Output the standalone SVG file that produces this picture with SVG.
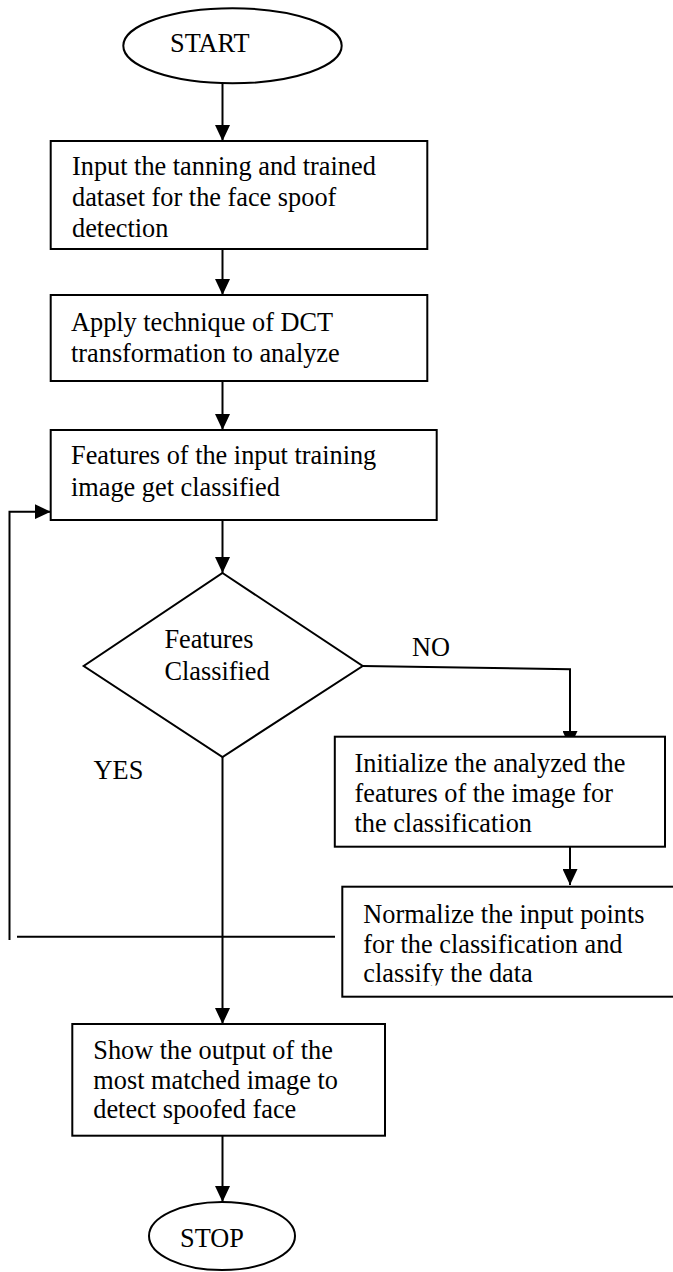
<svg xmlns="http://www.w3.org/2000/svg" width="673" height="1272" viewBox="0 0 673 1272">
<style>
.shape{fill:#fff;stroke:#000;stroke-width:2}
.t{font-family:"Liberation Serif","Times New Roman",serif;font-size:26.3px;fill:#000}
.c{fill:none;stroke:#000;stroke-width:2}
</style>
<defs>
<marker id="ah" markerUnits="userSpaceOnUse" markerWidth="16" markerHeight="15" refX="16" refY="7.5" orient="auto">
<path d="M0,0 L16,7.5 L0,15 z" fill="#000"/>
</marker>
<clipPath id="clipN"><rect x="340" y="885" width="340" height="100.5"/></clipPath>
</defs>
<rect width="673" height="1272" fill="#fff"/>
<g id="connectors">
<line class="c" x1="222.5" y1="83" x2="222.5" y2="141" marker-end="url(#ah)"/>
<line class="c" x1="222.5" y1="249" x2="222.5" y2="295" marker-end="url(#ah)"/>
<line class="c" x1="222.5" y1="381" x2="222.5" y2="430" marker-end="url(#ah)"/>
<line class="c" x1="222.5" y1="520" x2="222.5" y2="573" marker-end="url(#ah)"/>
<polyline class="c" points="362.7,666 570,669.3 570,747" marker-end="url(#ah)"/>
<line class="c" x1="570" y1="847" x2="570" y2="885" marker-end="url(#ah)"/>
<line class="c" x1="222.5" y1="757" x2="222.5" y2="1024" marker-end="url(#ah)"/>
<line class="c" x1="222.5" y1="1136" x2="222.5" y2="1202" marker-end="url(#ah)"/>
<line class="c" x1="17" y1="936.7" x2="335" y2="936.7"/>
<polyline class="c" points="9.5,940 9.5,511.7 50.7,511.7" marker-end="url(#ah)"/>
</g>
<g id="start">
<ellipse class="shape" cx="232.5" cy="45.8" rx="109.2" ry="37.5"/>
<text class="t" x="170" y="52">START</text>
</g>
<g id="input">
<rect class="shape" x="50.7" y="141" width="376.6" height="108"/>
<text class="t" x="72" y="175">Input the tanning and trained</text>
<text class="t" x="72" y="206">dataset for the face spoof</text>
<text class="t" x="72" y="237">detection</text>
</g>
<g id="dct">
<rect class="shape" x="50.7" y="295" width="376.6" height="86"/>
<text class="t" x="71" y="331">Apply technique of DCT</text>
<text class="t" x="71" y="361.7">transformation to analyze</text>
</g>
<g id="features">
<rect class="shape" x="50.7" y="430" width="386" height="90"/>
<text class="t" x="71" y="464">Features of the input training</text>
<text class="t" x="71" y="495.7">image get classified</text>
</g>
<g id="decision">
<polygon class="shape" points="222.5,573 362.7,666 222.5,757 83.7,666"/>
<text class="t" x="164.4" y="648.3">Features</text>
<text class="t" x="164.4" y="680">Classified</text>
</g>
<g id="labels">
<text class="t" x="412" y="656">NO</text>
<text class="t" x="93.6" y="779">YES</text>
</g>
<g id="initialize">
<rect class="shape" x="334.8" y="736.7" width="330.2" height="110"/>
<text class="t" x="354.5" y="771.7">Initialize the analyzed the</text>
<text class="t" x="354.5" y="801.7">features of the image for</text>
<text class="t" x="354.5" y="832.3">the classification</text>
</g>
<g id="normalize">
<rect class="shape" x="342.3" y="886.7" width="340" height="110"/>
<g clip-path="url(#clipN)">
<text class="t" x="363.3" y="922.7">Normalize the input points</text>
<text class="t" x="363.3" y="953.3">for the classification and</text>
<text class="t" x="363.3" y="981.7">classify the data</text>
</g>
</g>
<g id="show">
<rect class="shape" x="72.3" y="1024" width="312.7" height="111.7"/>
<text class="t" x="93.3" y="1059.3">Show the output of the</text>
<text class="t" x="93.3" y="1089.3">most matched image to</text>
<text class="t" x="93.3" y="1118.3">detect spoofed face</text>
</g>
<g id="stop">
<ellipse class="shape" cx="222" cy="1236" rx="73" ry="34"/>
<text class="t" x="180" y="1246.7">STOP</text>
</g>
</svg>
